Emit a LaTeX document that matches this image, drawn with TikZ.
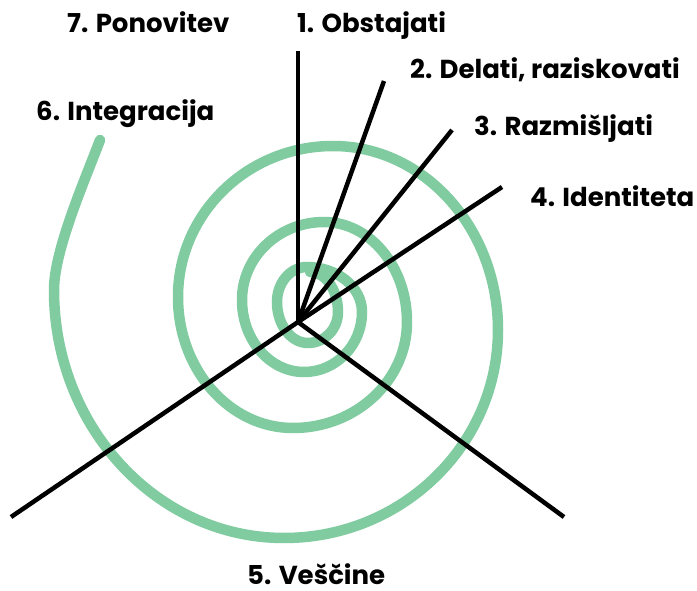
\documentclass[tikz,border=0pt]{standalone}
\usepackage{fontspec}
\setmainfont{Poppins}
\definecolor{zelena}{RGB}{128,203,160}

\begin{document}
\begin{tikzpicture}[x=1pt,y=-1pt,
zarek/.style={line width=4.5pt,black},
spirala/.style={line width=10.5pt,zelena,line cap=round},
oznaka/.style={anchor=base west,inner sep=0pt,font=\bfseries\fontsize{26}{26}\selectfont}
]
\useasboundingbox (0,0) rectangle (697,591);
%-- spirala, cetrtine elips
\draw[spirala] (310,272)
 arc[start angle=-90,end angle=0,x radius=28,y radius=40]
 arc[start angle=0,end angle=90,x radius=30,y radius=31]
 arc[start angle=90,end angle=180,x radius=31,y radius=41]
 arc[start angle=180,end angle=270,x radius=30,y radius=35]
 arc[start angle=270,end angle=360,x radius=55,y radius=45]
 arc[start angle=0,end angle=90,x radius=58,y radius=60]
 arc[start angle=90,end angle=180,x radius=62,y radius=72]
 arc[start angle=180,end angle=270,x radius=82,y radius=78]
 arc[start angle=270,end angle=360,x radius=83,y radius=100]
 arc[start angle=0,end angle=90,x radius=114,y radius=106]
 arc[start angle=90,end angle=180,x radius=115,y radius=131]
 arc[start angle=180,end angle=270,x radius=155,y radius=151]
 arc[start angle=270,end angle=360,x radius=165,y radius=184]
 arc[start angle=0,end angle=90,x radius=214,y radius=208]
 arc[start angle=90,end angle=180,x radius=230,y radius=248]
 .. controls (54,250) and (85,180) .. (100,140);
%--
\coordinate (s) at (298,322);
\coordinate (k1) at (298,51);
\coordinate (k2) at (384,81);
\coordinate (k3) at (452,130);
\coordinate (k4) at (502,187);
\coordinate (k5) at (564,517);
\coordinate (k6) at (11,517);
\draw[zarek] (s) -- (k1);
\draw[zarek] (s) -- (k2);
\draw[zarek] (s) -- (k3);
\draw[zarek] (s) -- (k4);
\draw[zarek] (s) -- (k5);
\draw[zarek] (s) -- (k6);
%--
\node[oznaka] (o1) at (297,33) {1. Obstajati};
\node[oznaka] (o2) at (410,79) {2. Delati, raziskovati};
\node[oznaka] (o3) at (474,136) {3. Razmišljati};
\node[oznaka] (o4) at (530,207) {4. Identiteta};
\node[oznaka] (o5) at (247,584) {5. Veščine};
\node[oznaka] (o6) at (36,121) {6. Integracija};
\node[oznaka] (o7) at (67,33) {7. Ponovitev};
\end{tikzpicture}
\end{document}
